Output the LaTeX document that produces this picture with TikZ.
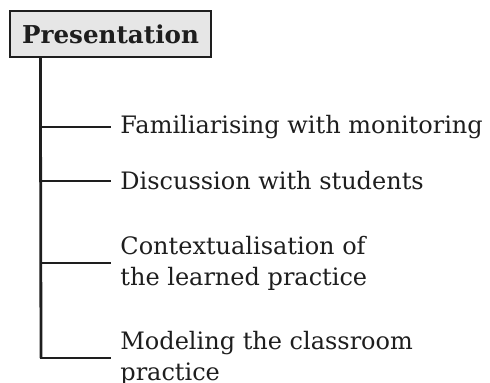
\documentclass[tikz,border=0pt]{standalone}
\usepackage{fontspec}
\setmainfont{DejaVu Serif}
\usepackage{tikz}
\usetikzlibrary{positioning}
\definecolor{boxgray}{HTML}{E6E6E6}
\definecolor{linegray}{HTML}{1E1E1E}
\tikzset{
  headbox/.style = {draw=linegray, fill=boxgray, line width=0.6pt,
    font=\fontsize{12.3}{14}\selectfont\bfseries, text=linegray,
    minimum width=100.5pt, minimum height=23pt, inner sep=0pt},% titre
  item/.style = {anchor=west, align=left, inner xsep=4.5pt, inner ysep=0pt,
    font=\fontsize{12}{15.5}\selectfont, text=linegray},% feuille
  branch/.style = {draw=linegray, line width=1.4pt}% trait
}
\begin{document}
\begin{tikzpicture}
  \useasboundingbox (0,0) rectangle (245pt,-191.5pt);
  \node [headbox] (pres) at (55.25pt,-17pt) {Presentation};
  \coordinate (top) at ([xshift=15.5pt]pres.south west);
  \coordinate (bottom) at (20.5pt,-179pt);
  \node [item] (fam) at (55.5pt,-63.5pt) {Familiarising with monitoring};
  \node [item] (disc) at (55.5pt,-90.5pt) {Discussion with students};
  \node [item] (ctx) at (55.5pt,-131.5pt) {Contextualisation of\\the learned practice};
  \node [item] (model) at (55.5pt,-179pt) {Modeling the classroom\\practice};
  \draw [branch] (top) -- (bottom);
  \foreach \n in {fam,disc,ctx,model}
    \draw [branch] (top |- \n.west) -- (\n.west);
\end{tikzpicture}
\end{document}
